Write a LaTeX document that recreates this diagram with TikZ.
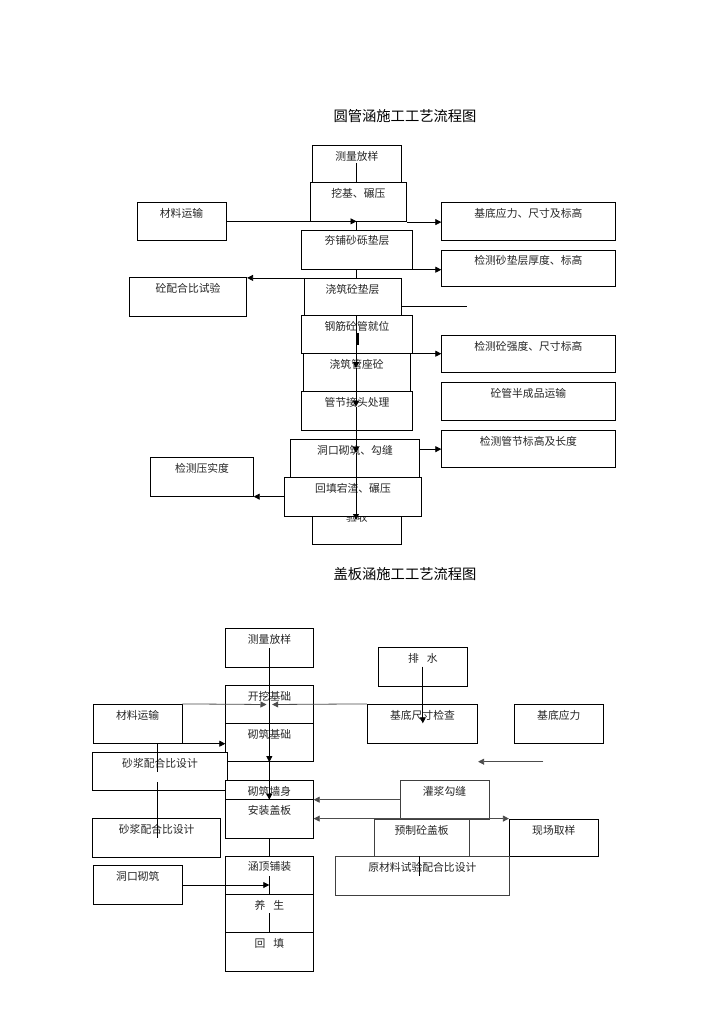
\documentclass[tikz,border=0pt]{standalone}
\usepackage{fontspec}
\newfontfamily\cjk{Noto Sans CJK SC}
\usetikzlibrary{arrows.meta,fit}
\newcommand\bx[7][box]{%
  \node[#1,fit={(#3,#4) (#5,#6)}] (#2) {};
  \node[txt] (#2-t) at ([yshift=-11.3pt]#2.north) {#7};}
\begin{document}
\begin{tikzpicture}[x=1pt,y=-1pt,
  box/.style={draw=black,fill=white,line width=0.8pt,inner sep=0pt},
  gbox/.style={box,draw=black!75},
  txt/.style={font=\cjk\fontsize{10.8}{12}\selectfont,inner sep=0pt,text=black!85},
  ttl/.style={font=\cjk\fontsize{14.3}{16}\selectfont,inner sep=0pt},
  ln/.style={line width=0.8pt},
  gln/.style={ln,draw=black!70},
  arr/.style={ln,-{Triangle[length=6pt,width=6pt]}},
  garr/.style={gln,-{Triangle[length=6pt,width=6pt]}},
  garrb/.style={gln,{Triangle[length=6pt,width=6pt]}-{Triangle[length=6pt,width=6pt]}}]
\useasboundingbox[fill=white] (0,0) rectangle (724,1024);

% ---------------- top chart ----------------
\node[ttl] (T1) at (405,116) {圆管涵施工工艺流程图};
\bx{A}{312.7}{145}{401}{182.3}{测量放样}
\bx{B}{310}{182.3}{406.7}{221.7}{挖基、碾压}
\bx{C}{137}{202.7}{226}{240}{材料运输}
\bx{D}{441.7}{202.7}{615}{240}{基底应力、尺寸及标高}
\bx{E}{301.7}{230}{412.3}{269.3}{夯铺砂砾垫层}
\bx{F}{441.7}{250}{615}{286.7}{检测砂垫层厚度、标高}
\bx{G}{304}{278.3}{401}{316}{浇筑砼垫层}
\bx{H}{129.3}{277.7}{246.7}{316}{砼配合比试验}
\bx{I}{301.7}{315.7}{412.3}{353.3}{钢筋砼管就位}
\bx{J}{303.3}{353.3}{410}{391.7}{浇筑管座砼}
\bx{K}{441.7}{335}{615}{372.7}{检测砼强度、尺寸标高}
\bx{L}{301.7}{391.7}{412.3}{430}{管节接头处理}
\bx{M}{441.7}{382.7}{615}{420}{砼管半成品运输}
\bx{N}{441.7}{430}{615}{467.7}{检测管节标高及长度}
\bx{O}{290.7}{439}{419.3}{477.3}{洞口砌筑、勾缝}
\bx{P}{150.7}{457.7}{253.3}{496.7}{检测压实度}
\bx{R}{312.7}{506.7}{401}{544}{验收}
\bx{Q}{284.3}{477.3}{421.7}{516}{回填宕渣、碾压}

\coordinate (Aln) at (356.5,163);
\coordinate (Gend) at (466.7,306);
\coordinate (t1) at (356,368);
\coordinate (t2) at (356,406.7);
\coordinate (t3) at (356,453);
\coordinate (t4) at (356,520);
\coordinate (o1) at ([yshift=9pt]O.east);
\coordinate (bar1) at (358,333.3);
\coordinate (bar2) at (358,345);

\draw[ln] (Aln) -- (Aln |- B.north);
\draw[arr] (C.east) -- (Aln |- C.east);
\draw[arr] (B.south east) -- (B.south east -| D.west);
\draw[ln] (Aln |- B.south) -- (Aln |- E.north);
\draw[arr] (E.south east) -- (E.south east -| F.west);
\draw[ln] (Aln |- E.south) -- (Aln |- G.north);
\draw[arr] (G.north west) -- (G.north west -| H.east);
\draw[ln] (Gend -| G.east) -- (Gend);
\draw[arr] (t1 |- G.south) -- (t1);
\draw[arr] (t1) -- (t2);
\draw[arr] (t2) -- (t3);
\draw[arr] (t3) -- (t4);
\draw[line width=1.3pt] (bar1) -- (bar2);
\draw[arr] (I.south east) -- (I.south east -| K.west);
\draw[arr] (o1) -- (o1 -| N.west);
\draw[arr] (Q.west) -- (Q.west -| P.east);

% ---------------- bottom chart ----------------
\node[ttl] (T2) at (405,574.3) {盖板涵施工工艺流程图};
\bx{a}{225.7}{628.3}{313.3}{667.3}{测量放样}
\bx{b}{378.3}{647.3}{467.3}{686}{排\hspace{8pt}水}
\bx{c}{225.7}{685.7}{313.3}{723.3}{开挖基础}
\bx{d}{93.3}{704.3}{182}{743.3}{材料运输}
\bx{e}{367.3}{704.3}{477.7}{743.3}{基底尺寸检查}
\bx{f}{514.3}{704.3}{603.3}{743.3}{基底应力}
\bx{g}{225.7}{723.3}{313.3}{761.7}{砌筑基础}
\bx{h}{92.7}{752.3}{227.3}{790.7}{砂浆配合比设计}
\bx{i}{225.7}{780.7}{313.3}{799.3}{砌筑墙身}
\bx{j}{225.7}{799.3}{313.3}{838.3}{安装盖板}
\bx[gbox]{k}{400}{780.7}{489}{819}{灌浆勾缝}
\bx{l}{92.7}{818.3}{220.7}{857.3}{砂浆配合比设计}
\bx[gbox]{m}{374}{819}{469.3}{856.7}{预制砼盖板}
\bx{n}{509.3}{819}{598.3}{856.7}{现场取样}
\bx{o}{225.7}{856}{313.3}{894.3}{涵顶铺装}
\bx[gbox]{p}{335.7}{856.7}{509}{895}{原材料试验配合比设计}
\bx{q}{93.3}{865.7}{182.3}{904.3}{洞口砌筑}
\bx{r}{225.7}{894.3}{313.3}{932.3}{养\hspace{8pt}生}
\bx{s}{225.7}{932.3}{313.3}{971}{回\hspace{8pt}填}

\coordinate (aln) at (269.3,648.3);
\coordinate (tipL) at (266.5,704.5);
\coordinate (tipR) at (272.2,704.5);
\coordinate (dv1) at (157.3,771.5);
\coordinate (dv2) at (157.3,782);
\coordinate (dv3) at (157.3,838.3);
\coordinate (etip) at (422.8,723.3);
\coordinate (fl1) at (543.3,761.7);
\coordinate (oin) at (269.3,876);
\coordinate (rin) at (269.3,913.3);
\coordinate (pin) at (419,876);

\draw[arr] (aln) -- (aln |- g.south);
\draw[arr] (aln |- g.south) -- (aln |- i.south);
\draw[garr] (d.north east) -- (tipL);
\draw[garr] (e.north west) -- (tipR);
\draw[arr] (d.south east) -- (d.south east -| g.west);
\draw[ln] (dv1 |- d.south) -- (dv1);
\draw[ln] (dv2) -- (dv3);
\draw[arr] (b.center) -- (etip);
\draw[garr] (fl1) -- (fl1 -| e.east);
\draw[garr] (k.west |- i.south) -- (i.south east);
\draw[garrb] (j.east |- m.north) -- (m.north -| n.west);
\draw[ln] (j.south) -- (o.north);
\draw[arr] (q.east) -- (q.east -| aln);
\draw[ln] (oin) -- (oin |- o.south);
\draw[ln] (rin) -- (rin |- r.south);
\draw[ln] (pin |- p.north) -- (pin);
\end{tikzpicture}
\end{document}
